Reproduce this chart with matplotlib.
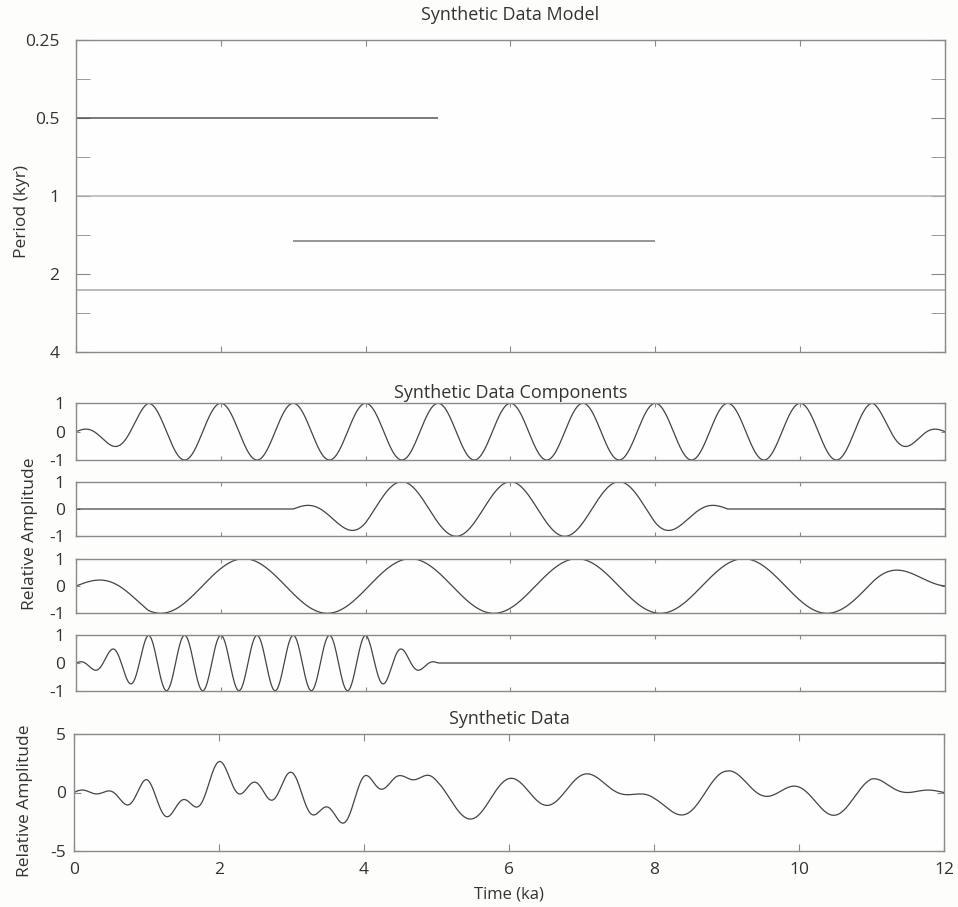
import numpy as np
import matplotlib
matplotlib.use("Agg")
import matplotlib.pyplot as plt
from matplotlib.ticker import FixedLocator, NullFormatter

plt.rcParams['font.family'] = ['Open Sans', 'DejaVu Sans']
plt.rcParams['axes.unicode_minus'] = False

# modelo: periodo (kyr), inicio y fin (ka) de cada componente
periods = [1.0, 1.5, 2.3, 0.5]
model_start = [0, 3, 0, 0]
model_end = [12, 8, 12, 5]
model_gray = ['#b4b4b4', '#7a7a7a', '#a8a8a8', '#555555']

# componentes: fase (ka de un maximo) y extension real de la senal
comp_phase = [0.0, 3.0, 2.32, 0.0]
comp_start = [0, 3, 0, 0]
comp_end = [12, 9, 12, 5]
ramp = 1.0  # rampa lineal de 1 kyr en los extremos

t = np.linspace(0, 12, 2401)


def component(i):
    p, t0, a, b = periods[i], comp_phase[i], comp_start[i], comp_end[i]
    w = np.clip(np.minimum(t - a, b - t) / ramp, 0, 1)
    return w * np.cos(2 * np.pi * (t - t0) / p)


comps = [component(i) for i in range(4)]
data = np.sum(comps, axis=0)

W, H = 958, 907
fig = plt.figure(figsize=(W / 100, H / 100), dpi=100)
fig.patch.set_facecolor('#fdfdfc')


def add_ax(left, top, right, bottom):
    return fig.add_axes([left / W, 1 - bottom / H, (right - left) / W, (bottom - top) / H])


spine_c = '#8a8a8a'
text_c = '#333333'
line_c = '#444444'
tick_fs = 12.5


def style(ax, tl, ypad):
    ax.set_facecolor('#fefefe')
    for s in ax.spines.values():
        s.set_color(spine_c)
        s.set_linewidth(1.0)
    ax.tick_params(direction='in', top=True, right=True, colors=spine_c,
                   labelcolor=text_c, labelsize=tick_fs, length=tl, width=0.8)
    ax.tick_params(axis='y', pad=ypad)
    ax.set_xlim(0, 12)
    ax.set_xticks([0, 2, 4, 6, 8, 10, 12])


# panel superior: modelo
ax0 = add_ax(76, 39.5, 945, 352)
style(ax0, 4, 12)
ax0.set_yscale('log', base=2)
ax0.set_ylim(4, 0.25)
ax0.yaxis.set_major_locator(FixedLocator([0.25, 0.5, 1, 2, 4]))
ax0.yaxis.set_minor_locator(FixedLocator([0.25 * 2 ** 0.5, 0.5 * 2 ** 0.5, 2 ** 0.5, 2 * 2 ** 0.5]))
ax0.yaxis.set_minor_formatter(NullFormatter())
ax0.set_yticklabels(['0.25', '0.5', '1', '2', '4'])
ax0.tick_params(axis='y', which='both', length=10, direction='in', left=True, right=True,
                colors=spine_c, labelcolor=text_c, pad=12)
ax0.set_xticklabels([])
for i in range(4):
    ax0.hlines(periods[i], model_start[i], model_end[i], color=model_gray[i], lw=1.1)
ax0.set_title('Synthetic Data Model', fontsize=13, color=text_c, pad=14)
fig.text(22 / W, 1 - 211 / H, 'Period (kyr)', rotation=90, ha='center', va='center',
         fontsize=12.5, color=text_c)

# componentes
rows = [(403.3, 460), (481.7, 536.3), (558.7, 613.3), (635.3, 690.7)]
cax = []
for i, (tp, bt) in enumerate(rows):
    ax = add_ax(76, tp, 945, bt)
    style(ax, 3, 8)
    ax.set_ylim(-1, 1)
    ax.set_yticks([-1, 0, 1])
    ax.set_xticklabels([])
    ax.plot(t, comps[i], color=line_c, lw=0.9)
    cax.append(ax)
cax[0].set_title('Synthetic Data Components', fontsize=13, color=text_c, pad=4)
fig.text(30 / W, 1 - 534 / H, 'Relative Amplitude', rotation=90, ha='center', va='center',
         fontsize=12.5, color=text_c)

# datos sinteticos
ax5 = add_ax(74, 734, 944, 851)
style(ax5, 5, 6)
ax5.set_ylim(-5, 5)
ax5.set_yticks([-5, 0, 5])
ax5.plot(t, data, color=line_c, lw=0.9)
ax5.set_title('Synthetic Data', fontsize=13, color=text_c, pad=7)
ax5.tick_params(axis='x', pad=8)
ax5.set_xlabel('Time (ka)', fontsize=12, color=text_c, labelpad=6)
fig.text(25 / W, 1 - 801 / H, 'Relative Amplitude', rotation=90, ha='center', va='center',
         fontsize=12.5, color=text_c)

fig.savefig('out.png', dpi=100, facecolor=fig.get_facecolor())
